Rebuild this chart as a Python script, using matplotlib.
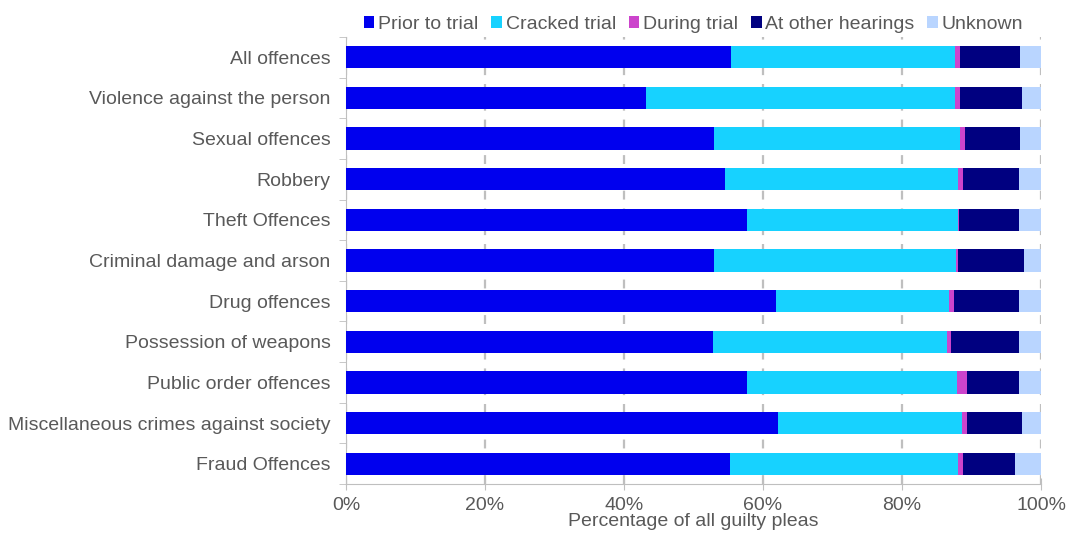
import numpy as np
import matplotlib.pyplot as plt

plt.rcParams['font.family'] = ['Liberation Sans', 'DejaVu Sans']

categories = ['All offences', 'Violence against the person', 'Sexual offences', 'Robbery',
              'Theft Offences', 'Criminal damage and arson', 'Drug offences',
              'Possession of weapons', 'Public order offences',
              'Miscellaneous crimes against society', 'Fraud Offences']
series = ['Prior to trial', 'Cracked trial', 'During trial', 'At other hearings', 'Unknown']
prior = [55.4, 43.2, 53.0, 54.5, 57.7, 53.0, 61.9, 52.8, 57.7, 62.1, 55.3]
cracked = [32.2, 44.4, 35.3, 33.6, 30.3, 34.8, 24.9, 33.7, 30.2, 26.6, 32.8]
during = [0.7, 0.8, 0.7, 0.7, 0.2, 0.2, 0.7, 0.5, 1.4, 0.7, 0.7]
other = [8.7, 8.8, 8.0, 8.1, 8.7, 9.5, 9.4, 9.9, 7.6, 7.8, 7.4]
unknown = [3.0, 2.8, 3.0, 3.1, 3.1, 2.5, 3.1, 3.1, 3.1, 2.8, 3.8]
colors = ['#0000ee', '#17d2ff', '#cc44cc', '#000080', '#b9d5ff']

fig = plt.figure(figsize=(10.66, 5.33), dpi=100)
ax = fig.add_axes([346/1066, 1-484/533, 695/1066, 447/533])

y = np.arange(len(categories))
left = np.zeros(len(categories))
for name, vals, c in zip(series, [prior, cracked, during, other, unknown], colors):
    vals = np.array(vals)
    ax.barh(y, vals, left=left, height=0.55, color=c, label=name, zorder=3)
    left += vals

ax.set_ylim(len(categories) - 0.5, -0.5)
ax.set_xlim(0, 100)
ax.set_yticks(y)
ax.set_yticks(np.arange(len(categories) + 1) - 0.5, minor=True)
ax.set_yticklabels(categories, fontsize=14, color='#595959')
ax.set_xticks(np.arange(0, 101, 20))
ax.set_xticklabels([f'{v}%' for v in range(0, 101, 20)], fontsize=14, color='#595959')
ax.tick_params(axis='y', which='major', length=0, pad=11)
ax.tick_params(axis='y', which='minor', length=5, color='#bfbfbf', direction='out')
ax.tick_params(axis='x', direction='inout', length=8, color='#bfbfbf', pad=5)
ax.xaxis.grid(True, color='#bfbfbf', linestyle=(0, (4, 4)), linewidth=1.6, zorder=0)
for s in ['top', 'right']:
    ax.spines[s].set_visible(False)
ax.spines['bottom'].set_color('#bfbfbf')
ax.spines['left'].set_color('#bfbfbf')
ax.set_xlabel('Percentage of all guilty pleas', fontsize=14, color='#595959', labelpad=0)

ax.legend(loc='lower center', bbox_to_anchor=(0.5, 0.99), ncol=5, frameon=False,
          fontsize=14, labelcolor='#595959', handlelength=0.55, handleheight=0.55,
          handletextpad=0.2, columnspacing=0.65, borderaxespad=0.05)

fig.savefig('out.png', dpi=100)
